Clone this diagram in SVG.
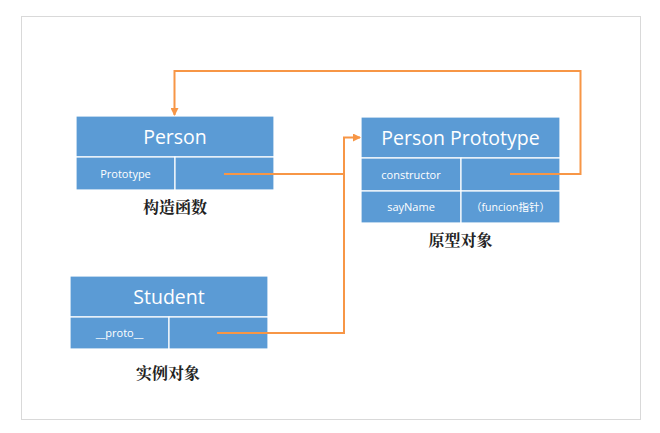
<svg xmlns="http://www.w3.org/2000/svg" width="660" height="433" viewBox="0 0 660 433">
<style>
.cell{fill:#5B9BD5;stroke:#FFFFFF;stroke-width:1.2}
.hd{font-family:"Open Sans","Noto Sans","Liberation Sans",sans-serif;font-size:19.5px;fill:#FFFFFF;text-anchor:middle}
.tx{font-family:"Open Sans","Noto Sans","Noto Sans CJK SC",sans-serif;font-size:11px;fill:#FFFFFF;text-anchor:middle}
.sm{font-size:10.5px}
.lb{font-family:"Noto Serif CJK SC","Noto Sans CJK SC",serif;font-size:16px;font-weight:bold;fill:#222222;text-anchor:middle}
.cn{fill:none;stroke:#F79646;stroke-width:2}
</style>
<defs>
<marker id="ah" markerWidth="8" markerHeight="8" refX="7" refY="4" orient="auto" markerUnits="userSpaceOnUse">
<path d="M0,0 L8,4 L0,8 Z" fill="#F79646"/>
</marker>
</defs>
<rect x="0" y="0" width="660" height="433" fill="#FFFFFF"/>
<rect x="21.5" y="16.5" width="619" height="403" fill="none" stroke="#D9D9D9" stroke-width="1"/>
<g id="person">
<rect class="cell" x="76" y="116" width="198" height="41"/>
<rect class="cell" x="76" y="157" width="99" height="33"/>
<rect class="cell" x="175" y="157" width="99" height="33"/>
<text class="hd" x="175" y="144">Person</text>
<text class="tx" x="125.5" y="177.5">Prototype</text>
<text class="lb" x="175" y="213">构造函数</text>
</g>
<g id="person-prototype">
<rect class="cell" x="361" y="117" width="199" height="41"/>
<rect class="cell" x="361" y="158" width="100" height="33"/>
<rect class="cell" x="461" y="158" width="99" height="33"/>
<rect class="cell" x="361" y="191" width="100" height="32"/>
<rect class="cell" x="461" y="191" width="99" height="32"/>
<text class="hd" x="460.5" y="145">Person Prototype</text>
<text class="tx" x="411" y="178.5">constructor</text>
<text class="tx" x="411" y="211">sayName</text>
<text class="tx sm" x="510.5" y="211">（funcion指针）</text>
<text class="lb" x="460.5" y="246">原型对象</text>
</g>
<g id="student">
<rect class="cell" x="70" y="276" width="198" height="41"/>
<rect class="cell" x="70" y="317" width="99" height="32"/>
<rect class="cell" x="169" y="317" width="99" height="32"/>
<text class="hd" x="169" y="304">Student</text>
<text class="tx" x="119.5" y="337">__proto__</text>
<text class="lb" x="168" y="379">实例对象</text>
</g>
<g id="connectors">
<polyline class="cn" points="224,174 344,174"/>
<polyline class="cn" points="217,333 344,333 344,137.5 360,137.5" marker-end="url(#ah)"/>
<polyline class="cn" points="510,174 580.5,174 580.5,71 174.5,71 174.5,115" marker-end="url(#ah)"/>
</g>
</svg>
